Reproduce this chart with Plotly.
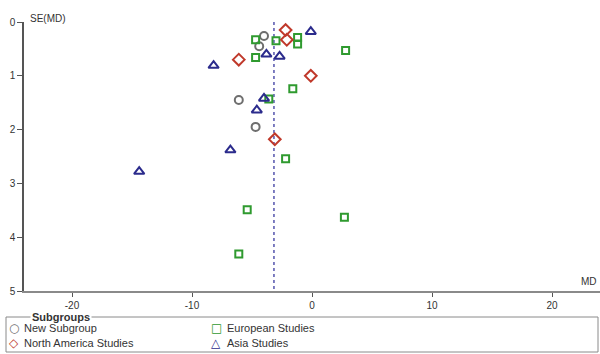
import plotly.graph_objects as go

# Funnel plot: mean difference (MD) against its standard error, by subgroup
new_md = [-4.0, -4.4, -6.1, -4.7]
new_se = [0.26, 0.45, 1.45, 1.95]

eu_md = [-4.7, -4.7, -3.0, -1.2, -1.2, 2.8, -1.6, -3.6, -2.2, -5.4, 2.7, -6.1]
eu_se = [0.33, 0.66, 0.35, 0.29, 0.41, 0.53, 1.24, 1.43, 2.54, 3.49, 3.63, 4.31]

na_md = [-2.2, -2.1, -6.1, -0.1, -3.1]
na_se = [0.15, 0.33, 0.70, 1.00, 2.18]

asia_md = [-14.4, -8.2, -6.8, -4.6, -4.0, -3.8, -2.7, -0.1]
asia_se = [2.78, 0.81, 2.38, 1.64, 1.42, 0.60, 0.64, 0.18]

pooled_md = -3.17
se_limits = [0, 5]
x_ticks = [-20, -10, 0, 10, 20]
y_ticks = [0, 1, 2, 3, 4, 5]

FONT = "Liberation Sans, Arial, sans-serif"
SYMFONT = "DejaVu Sans, sans-serif"

# name, x, y, marker symbol, colour, marker size, legend glyph, legend column, legend row
groups = [
    ("New Subgroup", new_md, new_se, "circle-open", "#6e6e6e", 8, "\u25CB", 0, 0),
    ("European Studies", eu_md, eu_se, "square-open", "#2f9a2f", 7, "\u25A1", 1, 0),
    ("North America Studies", na_md, na_se, "diamond-open", "#c0392b", 9, "\u25C7", 0, 1),
    ("Asia Studies", asia_md, asia_se, "triangle-up-open", "#2b2b8c", 9, "\u25B3", 1, 1),
]

W, H = 600, 354
ML, MR, MT, MB = 24, 0, 22, 63
PW, PH = W - ML - MR, H - MT - MB


def px(xp):
    return (xp - ML) / PW


def py(yp):
    return (H - MB - yp) / PH


fig = go.Figure()

# pooled estimate reference line
fig.add_trace(go.Scatter(
    x=[pooled_md, pooled_md], y=se_limits, mode="lines",
    line=dict(color="#3a3aa0", width=1.3, dash="dot"),
    showlegend=False, hoverinfo="skip",
))

for name, xs, ys, sym, col, sz, glyph, c, r in groups:
    fig.add_trace(go.Scatter(
        x=xs, y=ys, mode="markers", name=name, showlegend=False,
        marker=dict(symbol=sym, size=sz, color=col,
                    line=dict(color=col, width=2)),
    ))

fig.update_xaxes(
    range=[-24, 24], tickvals=x_ticks, ticktext=[str(v) for v in x_ticks],
    showline=True, linecolor="#8a8a8a", linewidth=1.5,
    ticks="outside", ticklen=4, tickcolor="#555555", tickwidth=1,
    showgrid=False, zeroline=False,
    tickfont=dict(family=FONT, size=10, color="#333333"),
)
fig.update_yaxes(
    range=[5, 0], tickvals=y_ticks, ticktext=[str(v) for v in y_ticks],
    showline=True, linecolor="#555555", linewidth=1.5,
    ticks="outside", ticklen=5, tickcolor="#555555", tickwidth=1,
    showgrid=False, zeroline=False,
    tickfont=dict(family=FONT, size=10, color="#333333"),
)

fig.add_annotation(text="SE(MD)", xref="paper", yref="paper", x=0.0, y=1.0,
                   xanchor="left", yanchor="bottom", xshift=4, yshift=-4,
                   showarrow=False, font=dict(family=FONT, size=10, color="#333333"))
fig.add_annotation(text="MD", xref="paper", yref="paper", x=1.0, y=0.0,
                   xanchor="right", yanchor="bottom", xshift=-1, yshift=2,
                   showarrow=False, font=dict(family=FONT, size=10, color="#333333"))

# legend frame with title breaking the top border
fig.add_shape(type="rect", xref="paper", yref="paper",
              x0=px(6), x1=px(598), y0=py(352), y1=py(317),
              line=dict(color="#8a8a8a", width=1))
fig.add_annotation(text="<b>Subgroups</b>", xref="paper", yref="paper",
                   x=px(30), y=py(317), xanchor="left", yanchor="middle",
                   showarrow=False, bgcolor="white", borderpad=1,
                   font=dict(family=FONT, size=11, color="#333333"))

col_sym = [14, 216]
col_txt = [23, 226]
row_y = [328, 343]
for name, xs, ys, sym, col, sz, glyph, c, r in groups:
    fig.add_annotation(text=glyph, xref="paper", yref="paper",
                       x=px(col_sym[c]), y=py(row_y[r]), xanchor="center", yanchor="middle",
                       showarrow=False, borderpad=0,
                       font=dict(family=SYMFONT, size=12, color=col))
    fig.add_annotation(text=name, xref="paper", yref="paper",
                       x=px(col_txt[c]), y=py(row_y[r]), xanchor="left", yanchor="middle",
                       showarrow=False, borderpad=0,
                       font=dict(family=FONT, size=11, color="#333333"))

fig.update_layout(
    width=W, height=H,
    margin=dict(l=ML, r=MR, t=MT, b=MB),
    paper_bgcolor="white", plot_bgcolor="white",
    showlegend=False,
)

fig.write_html("out.html")
